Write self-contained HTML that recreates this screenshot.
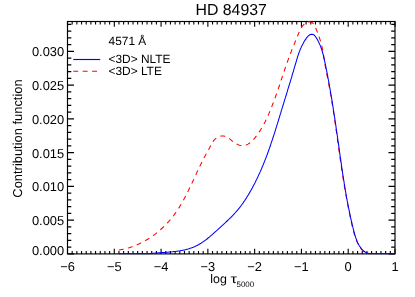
<!DOCTYPE html>
<html><head><meta charset="utf-8"><style>
html,body{margin:0;padding:0;background:#fff}
svg{display:block;will-change:transform;opacity:0.999}
text{text-rendering:geometricPrecision;font-family:"Liberation Sans",sans-serif;fill:#000}
</style></head><body>
<svg width="415" height="297" viewBox="0 0 415 297">
<rect width="415" height="297" fill="#fff"/>
<defs><clipPath id="c"><rect x="67.5" y="20.8" width="327.5" height="233.8"/></clipPath></defs>
<rect x="67.5" y="21.5" width="327.5" height="232.4" fill="none" stroke="#000" stroke-width="1.15"/>
<path d="M67.50 253.9v-5.2M67.50 21.5v5.2M72.18 253.9v-3.0M72.18 21.5v3.0M76.86 253.9v-3.0M76.86 21.5v3.0M81.54 253.9v-3.0M81.54 21.5v3.0M86.21 253.9v-3.0M86.21 21.5v3.0M90.89 253.9v-3.0M90.89 21.5v3.0M95.57 253.9v-3.0M95.57 21.5v3.0M100.25 253.9v-3.0M100.25 21.5v3.0M104.93 253.9v-3.0M104.93 21.5v3.0M109.61 253.9v-3.0M109.61 21.5v3.0M114.29 253.9v-5.2M114.29 21.5v5.2M118.96 253.9v-3.0M118.96 21.5v3.0M123.64 253.9v-3.0M123.64 21.5v3.0M128.32 253.9v-3.0M128.32 21.5v3.0M133.00 253.9v-3.0M133.00 21.5v3.0M137.68 253.9v-3.0M137.68 21.5v3.0M142.36 253.9v-3.0M142.36 21.5v3.0M147.04 253.9v-3.0M147.04 21.5v3.0M151.71 253.9v-3.0M151.71 21.5v3.0M156.39 253.9v-3.0M156.39 21.5v3.0M161.07 253.9v-5.2M161.07 21.5v5.2M165.75 253.9v-3.0M165.75 21.5v3.0M170.43 253.9v-3.0M170.43 21.5v3.0M175.11 253.9v-3.0M175.11 21.5v3.0M179.79 253.9v-3.0M179.79 21.5v3.0M184.46 253.9v-3.0M184.46 21.5v3.0M189.14 253.9v-3.0M189.14 21.5v3.0M193.82 253.9v-3.0M193.82 21.5v3.0M198.50 253.9v-3.0M198.50 21.5v3.0M203.18 253.9v-3.0M203.18 21.5v3.0M207.86 253.9v-5.2M207.86 21.5v5.2M212.54 253.9v-3.0M212.54 21.5v3.0M217.21 253.9v-3.0M217.21 21.5v3.0M221.89 253.9v-3.0M221.89 21.5v3.0M226.57 253.9v-3.0M226.57 21.5v3.0M231.25 253.9v-3.0M231.25 21.5v3.0M235.93 253.9v-3.0M235.93 21.5v3.0M240.61 253.9v-3.0M240.61 21.5v3.0M245.29 253.9v-3.0M245.29 21.5v3.0M249.96 253.9v-3.0M249.96 21.5v3.0M254.64 253.9v-5.2M254.64 21.5v5.2M259.32 253.9v-3.0M259.32 21.5v3.0M264.00 253.9v-3.0M264.00 21.5v3.0M268.68 253.9v-3.0M268.68 21.5v3.0M273.36 253.9v-3.0M273.36 21.5v3.0M278.04 253.9v-3.0M278.04 21.5v3.0M282.71 253.9v-3.0M282.71 21.5v3.0M287.39 253.9v-3.0M287.39 21.5v3.0M292.07 253.9v-3.0M292.07 21.5v3.0M296.75 253.9v-3.0M296.75 21.5v3.0M301.43 253.9v-5.2M301.43 21.5v5.2M306.11 253.9v-3.0M306.11 21.5v3.0M310.79 253.9v-3.0M310.79 21.5v3.0M315.46 253.9v-3.0M315.46 21.5v3.0M320.14 253.9v-3.0M320.14 21.5v3.0M324.82 253.9v-3.0M324.82 21.5v3.0M329.50 253.9v-3.0M329.50 21.5v3.0M334.18 253.9v-3.0M334.18 21.5v3.0M338.86 253.9v-3.0M338.86 21.5v3.0M343.54 253.9v-3.0M343.54 21.5v3.0M348.21 253.9v-5.2M348.21 21.5v5.2M352.89 253.9v-3.0M352.89 21.5v3.0M357.57 253.9v-3.0M357.57 21.5v3.0M362.25 253.9v-3.0M362.25 21.5v3.0M366.93 253.9v-3.0M366.93 21.5v3.0M371.61 253.9v-3.0M371.61 21.5v3.0M376.29 253.9v-3.0M376.29 21.5v3.0M380.96 253.9v-3.0M380.96 21.5v3.0M385.64 253.9v-3.0M385.64 21.5v3.0M390.32 253.9v-3.0M390.32 21.5v3.0M395.00 253.9v-5.2M395.00 21.5v5.2M67.5 253.90h6.5M395.0 253.90h-6.5M67.5 247.15h3.8M395.0 247.15h-3.8M67.5 240.40h3.8M395.0 240.40h-3.8M67.5 233.65h3.8M395.0 233.65h-3.8M67.5 226.90h3.8M395.0 226.90h-3.8M67.5 220.15h6.5M395.0 220.15h-6.5M67.5 213.40h3.8M395.0 213.40h-3.8M67.5 206.65h3.8M395.0 206.65h-3.8M67.5 199.90h3.8M395.0 199.90h-3.8M67.5 193.15h3.8M395.0 193.15h-3.8M67.5 186.40h6.5M395.0 186.40h-6.5M67.5 179.65h3.8M395.0 179.65h-3.8M67.5 172.90h3.8M395.0 172.90h-3.8M67.5 166.15h3.8M395.0 166.15h-3.8M67.5 159.40h3.8M395.0 159.40h-3.8M67.5 152.65h6.5M395.0 152.65h-6.5M67.5 145.90h3.8M395.0 145.90h-3.8M67.5 139.15h3.8M395.0 139.15h-3.8M67.5 132.40h3.8M395.0 132.40h-3.8M67.5 125.65h3.8M395.0 125.65h-3.8M67.5 118.90h6.5M395.0 118.90h-6.5M67.5 112.15h3.8M395.0 112.15h-3.8M67.5 105.40h3.8M395.0 105.40h-3.8M67.5 98.65h3.8M395.0 98.65h-3.8M67.5 91.90h3.8M395.0 91.90h-3.8M67.5 85.15h6.5M395.0 85.15h-6.5M67.5 78.40h3.8M395.0 78.40h-3.8M67.5 71.65h3.8M395.0 71.65h-3.8M67.5 64.90h3.8M395.0 64.90h-3.8M67.5 58.15h3.8M395.0 58.15h-3.8M67.5 51.40h6.5M395.0 51.40h-6.5M67.5 44.65h3.8M395.0 44.65h-3.8M67.5 37.90h3.8M395.0 37.90h-3.8M67.5 31.15h3.8M395.0 31.15h-3.8M67.5 24.40h3.8M395.0 24.40h-3.8" stroke="#000" stroke-width="1.1" fill="none"/>
<g clip-path="url(#c)" fill="none" stroke-width="1.05" stroke-linejoin="round">
<path d="M118.7 250.0L120.2 249.8L121.7 249.5L123.2 249.2L124.7 248.9L126.2 248.5L127.6 248.1L129.1 247.7L130.5 247.2L131.9 246.8L133.3 246.3L134.8 245.7L136.1 245.2L137.5 244.6L138.9 244.0L140.2 243.3L141.6 242.7L142.9 242.0L144.2 241.3L145.5 240.5L146.8 239.8L148.1 239.0L149.4 238.2L150.6 237.4L151.9 236.5L153.1 235.7L154.3 234.8L155.5 233.9L156.7 232.9L157.8 232.0L159.0 231.0L160.1 230.0L161.2 229.0L162.3 228.0L163.4 227.0L164.5 225.9L165.6 224.9L166.6 223.8L167.6 222.7L168.6 221.6L169.6 220.4L170.6 219.3L171.5 218.1L172.4 217.0L173.4 215.8L174.3 214.6L175.1 213.4L176.0 212.2L176.8 210.9L177.7 209.7L178.5 208.5L179.3 207.2L180.1 205.9L180.8 204.7L181.6 203.4L182.3 202.1L183.1 200.8L183.8 199.5L184.5 198.2L185.2 196.8L185.9 195.5L186.6 194.2L187.3 192.9L187.9 191.5L188.6 190.2L189.2 188.8L189.9 187.5L190.5 186.1L191.2 184.8L191.8 183.4L192.5 182.1L193.1 180.7L193.7 179.4L194.3 178.0L195.0 176.7L195.6 175.3L196.2 174.0L196.8 172.6L197.5 171.3L198.1 169.9L198.7 168.6L199.4 167.2L200.0 165.9L200.7 164.6L201.3 163.3L202.0 161.9L202.6 160.6L203.3 159.3L204.0 157.9L204.7 156.6L205.5 155.2L206.2 153.8L207.0 152.5L207.8 151.1L208.5 149.7L209.3 148.3L210.0 146.9L210.7 145.6L211.4 144.3L212.1 143.1L212.8 141.9L213.6 140.7L214.5 139.6L215.6 138.6L216.8 137.7L218.1 137.0L219.6 136.4L221.0 136.1L222.5 136.0L224.0 136.1L225.5 136.5L226.9 137.1L228.2 137.8L229.4 138.7L230.6 139.6L231.7 140.6L232.8 141.6L234.0 142.5L235.4 143.4L236.7 144.1L238.2 144.7L239.6 145.2L241.1 145.5L242.6 145.6L244.0 145.5L245.4 145.2L246.8 144.7L248.0 144.1L249.3 143.3L250.4 142.5L251.5 141.5L252.6 140.4L253.7 139.3L254.7 138.1L255.6 136.9L256.6 135.6L257.5 134.4L258.4 133.1L259.2 131.9L260.1 130.6L260.9 129.3L261.6 128.0L262.4 126.7L263.2 125.4L263.9 124.1L264.6 122.8L265.3 121.5L265.9 120.1L266.6 118.8L267.2 117.4L267.8 116.1L268.4 114.7L269.0 113.4L269.6 112.0L270.2 110.7L270.7 109.3L271.3 107.9L271.8 106.5L272.4 105.1L272.9 103.7L273.5 102.3L274.0 100.9L274.5 99.5L275.0 98.1L275.5 96.7L276.0 95.3L276.5 93.8L277.0 92.4L277.5 91.0L278.0 89.6L278.5 88.1L279.0 86.7L279.5 85.3L279.9 83.8L280.4 82.4L280.9 81.0L281.4 79.5L281.9 78.1L282.3 76.7L282.8 75.2L283.3 73.8L283.8 72.4L284.3 71.0L284.7 69.5L285.2 68.1L285.7 66.7L286.2 65.3L286.7 63.9L287.2 62.5L287.7 61.0L288.2 59.6L288.7 58.2L289.2 56.9L289.8 55.5L290.3 54.1L290.8 52.7L291.4 51.3L291.9 49.9L292.4 48.6L293.0 47.2L293.5 45.8L294.1 44.5L294.7 43.1L295.2 41.7L295.8 40.3L296.4 38.9L297.0 37.5L297.5 36.1L298.1 34.7L298.7 33.3L299.3 31.9L300.0 30.5L300.7 29.1L301.4 27.8L302.2 26.5L303.1 25.3L304.2 24.1L305.3 23.1L306.5 22.3L307.9 21.9L309.3 21.7" stroke="#f00" stroke-dasharray="4.9 4.5"/>
<path d="M309.3 21.7L310.7 22.0L311.9 22.5L313.0 23.4L313.9 24.6L314.6 25.9L315.3 27.3L316.0 28.7L316.6 30.2L317.2 31.6L317.8 33.0L318.3 34.4L318.8 35.8L319.3 37.3L319.7 38.7L320.2 40.1L320.6 41.6L321.0 43.0L321.4 44.5L321.8 45.9L322.1 47.4L322.4 48.8L322.8 50.3L323.0 51.7L323.3 53.2L323.5 54.7L323.7 56.1L323.9 57.6L324.1 59.1L324.3 60.5L324.6 62.0L324.8 63.5L325.0 64.9L325.3 66.4L325.6 67.9L325.9 69.4L326.1 70.8L326.4 72.3L326.7 73.8L327.0 75.3L327.3 76.8L327.6 78.2L327.9 79.7L328.2 81.2L328.5 82.7L328.8 84.2L329.0 85.6L329.3 87.1L329.6 88.6L329.9 90.1L330.1 91.6L330.4 93.0L330.7 94.5L330.9 96.0L331.2 97.5L331.4 99.0L331.7 100.4L331.9 101.9L332.1 103.4L332.4 104.9L332.6 106.4L332.9 107.8L333.1 109.3L333.3 110.8L333.5 112.3L333.8 113.8L334.0 115.2L334.2 116.7L334.4 118.2L334.7 119.7L334.9 121.2L335.1 122.7L335.3 124.1L335.5 125.6L335.7 127.1L335.9 128.6L336.1 130.1L336.4 131.5L336.6 133.0L336.8 134.5L337.0 136.0L337.2 137.5L337.4 138.9L337.6 140.4L337.8 141.9L338.0 143.4L338.2 144.9L338.4 146.4L338.6 147.8L338.8 149.3L339.0 150.8L339.2 152.3L339.5 153.8L339.7 155.3L339.9 156.7L340.1 158.2L340.3 159.7L340.5 161.2L340.7 162.7L340.9 164.1L341.2 165.6L341.4 167.1L341.6 168.6L341.8 170.1L342.0 171.6L342.3 173.0L342.5 174.5L342.7 176.0L343.0 177.5L343.2 179.0L343.4 180.5L343.7 181.9L343.9 183.4L344.2 184.9L344.4 186.4L344.7 187.9L344.9 189.4L345.2 190.9L345.4 192.3L345.7 193.8L346.0 195.3L346.3 196.8L346.5 198.3L346.8 199.8L347.1 201.2L347.4 202.7L347.7 204.2L347.9 205.7L348.2 207.2L348.5 208.7L348.8 210.1L349.1 211.6L349.4 213.1L349.7 214.5L350.0 216.0L350.3 217.5L350.7 218.9L351.0 220.4L351.3 221.9L351.6 223.3L351.9 224.8L352.2 226.2L352.6 227.7L352.9 229.1L353.3 230.5L353.7 232.0L354.1 233.4L354.5 234.8L354.9 236.3L355.4 237.7L355.9 239.1L356.5 240.5L357.1 241.9L357.7 243.3L358.4 244.6L359.1 246.0L359.9 247.2L360.8 248.4L361.8 249.6L362.9 250.6L364.1 251.5L365.3 252.2L366.7 252.8L368.1 253.3L369.6 253.6L370.3 253.6" stroke="#f00" stroke-dasharray="4.9 4.5"/>
<path d="M119.0 253.7L150.1 253.6L151.5 253.4L152.9 253.3L154.3 253.2L155.7 253.0L157.2 252.9L158.7 252.8L160.1 252.7L161.6 252.6L163.2 252.5L164.7 252.4L166.2 252.3L167.7 252.2L169.3 252.0L170.8 251.9L172.4 251.8L173.9 251.6L175.4 251.4L177.0 251.2L178.5 251.0L180.0 250.8L181.5 250.5L183.0 250.2L184.5 249.9L186.0 249.6L187.5 249.2L188.9 248.8L190.3 248.3L191.8 247.8L193.1 247.3L194.5 246.7L195.8 246.1L197.1 245.5L198.4 244.8L199.7 244.0L201.0 243.2L202.2 242.4L203.4 241.6L204.6 240.8L205.8 239.9L207.0 239.0L208.1 238.0L209.3 237.1L210.4 236.1L211.6 235.2L212.7 234.2L213.8 233.2L214.9 232.2L216.1 231.2L217.2 230.2L218.3 229.1L219.4 228.1L220.5 227.1L221.6 226.1L222.7 225.1L223.8 224.1L224.9 223.1L226.0 222.0L227.1 221.0L228.2 220.0L229.3 218.9L230.4 217.9L231.4 216.8L232.4 215.8L233.5 214.7L234.5 213.6L235.5 212.5L236.5 211.3L237.5 210.2L238.4 209.1L239.4 207.9L240.3 206.7L241.2 205.5L242.1 204.3L243.0 203.1L243.8 201.8L244.7 200.6L245.5 199.3L246.3 198.1L247.1 196.8L247.9 195.5L248.7 194.2L249.5 192.9L250.2 191.6L251.0 190.3L251.7 189.0L252.4 187.7L253.1 186.3L253.8 185.0L254.5 183.7L255.2 182.4L255.8 181.0L256.5 179.7L257.2 178.3L257.8 177.0L258.4 175.6L259.0 174.3L259.7 172.9L260.3 171.6L260.9 170.2L261.5 168.9L262.0 167.5L262.6 166.1L263.2 164.8L263.7 163.4L264.3 162.0L264.8 160.6L265.4 159.2L265.9 157.9L266.4 156.5L267.0 155.1L267.5 153.7L268.0 152.3L268.5 150.9L269.0 149.5L269.5 148.1L270.0 146.7L270.5 145.3L270.9 143.9L271.4 142.4L271.9 141.0L272.4 139.6L272.8 138.2L273.3 136.8L273.8 135.3L274.2 133.9L274.7 132.5L275.1 131.1L275.6 129.6L276.0 128.2L276.5 126.7L276.9 125.3L277.4 123.9L277.8 122.4L278.3 121.0L278.7 119.5L279.1 118.1L279.6 116.6L280.0 115.2L280.5 113.7L280.9 112.3L281.3 110.8L281.8 109.4L282.2 107.9L282.7 106.5L283.1 105.0L283.6 103.5L284.0 102.1L284.5 100.6L284.9 99.2L285.4 97.7L285.8 96.2L286.3 94.8L286.7 93.3L287.2 91.8L287.6 90.4L288.0 88.9L288.5 87.5L288.9 86.0L289.4 84.6L289.8 83.1L290.3 81.7L290.7 80.2L291.1 78.8L291.6 77.3L292.0 75.9L292.4 74.4L292.8 73.0L293.3 71.6L293.7 70.1L294.1 68.7L294.5 67.3L294.9 65.9L295.3 64.5L295.8 63.0L296.2 61.6L296.6 60.2L297.0 58.8L297.4 57.5L297.8 56.1L298.3 54.7L298.8 53.3L299.3 51.9L299.8 50.6L300.3 49.2L300.9 47.9L301.5 46.5L302.2 45.2L302.9 43.9L303.6 42.5L304.4 41.2L305.2 39.9L306.1 38.6L307.0 37.3L308.1 36.1L309.2 35.2L310.3 34.5L311.7 34.2L313.1 34.4L314.3 35.2L315.4 36.5L316.4 37.9L317.2 39.3L317.9 40.6L318.6 41.9L319.2 43.2L319.8 44.6L320.4 45.9L320.9 47.3L321.4 48.7L321.8 50.1L322.3 51.5L322.7 53.0L323.1 54.4L323.5 55.9L323.8 57.3L324.2 58.8L324.5 60.3L324.8 61.7L325.1 63.2L325.4 64.7L325.7 66.2L326.0 67.6L326.3 69.1L326.6 70.6L326.9 72.1L327.2 73.6L327.5 75.0L327.8 76.5L328.0 78.0L328.3 79.5L328.6 81.0L328.9 82.4L329.1 83.9L329.4 85.4L329.6 86.9L329.9 88.4L330.2 89.8L330.4 91.3L330.7 92.8L330.9 94.3L331.2 95.7L331.4 97.2L331.7 98.7L331.9 100.2L332.2 101.7L332.4 103.1L332.6 104.6L332.9 106.1L333.1 107.6L333.3 109.1L333.6 110.5L333.8 112.0L334.0 113.5L334.2 115.0L334.5 116.5L334.7 117.9L334.9 119.4L335.1 120.9L335.4 122.4L335.6 123.9L335.8 125.3L336.0 126.8L336.2 128.3L336.4 129.8L336.7 131.3L336.9 132.7L337.1 134.2L337.3 135.7L337.5 137.2L337.7 138.7L337.9 140.1L338.1 141.6L338.4 143.1L338.6 144.6L338.8 146.1L339.0 147.6L339.2 149.0L339.4 150.5L339.6 152.0L339.8 153.5L340.0 155.0L340.2 156.5L340.4 157.9L340.7 159.4L340.9 160.9L341.1 162.4L341.3 163.9L341.5 165.4L341.7 166.9L341.9 168.3L342.2 169.8L342.4 171.3L342.6 172.8L342.8 174.3L343.0 175.8L343.3 177.2L343.5 178.7L343.7 180.2L344.0 181.7L344.2 183.2L344.4 184.7L344.7 186.1L344.9 187.6L345.2 189.1L345.4 190.6L345.7 192.1L345.9 193.5L346.2 195.0L346.4 196.5L346.7 198.0L347.0 199.4L347.2 200.9L347.5 202.4L347.8 203.9L348.1 205.3L348.4 206.8L348.7 208.3L349.0 209.8L349.3 211.2L349.6 212.7L349.9 214.2L350.2 215.6L350.5 217.1L350.8 218.6L351.2 220.0L351.5 221.5L351.9 223.0L352.2 224.4L352.6 225.9L352.9 227.4L353.3 228.8L353.7 230.3L354.0 231.7L354.4 233.2L354.8 234.6L355.3 236.1L355.7 237.5L356.2 238.9L356.7 240.3L357.3 241.7L357.9 243.0L358.6 244.4L359.3 245.7L360.1 246.9L361.0 248.1L361.9 249.3L363.0 250.4L364.1 251.3L365.4 252.2L366.7 252.8L368.1 253.3L369.7 253.5L370.7 253.6L395.0 253.7" stroke="#00f"/>
</g>
<g font-size="12.9"><text x="67.5" y="271.2" text-anchor="middle">−6</text><text x="114.3" y="271.2" text-anchor="middle">−5</text><text x="161.1" y="271.2" text-anchor="middle">−4</text><text x="207.9" y="271.2" text-anchor="middle">−3</text><text x="254.6" y="271.2" text-anchor="middle">−2</text><text x="301.4" y="271.2" text-anchor="middle">−1</text><text x="348.2" y="271.2" text-anchor="middle">0</text><text x="395.0" y="271.2" text-anchor="middle">1</text><text x="64.2" y="254.7" text-anchor="end">0.000</text><text x="64.2" y="225.2" text-anchor="end">0.005</text><text x="64.2" y="191.4" text-anchor="end">0.010</text><text x="64.2" y="157.7" text-anchor="end">0.015</text><text x="64.2" y="123.9" text-anchor="end">0.020</text><text x="64.2" y="90.2" text-anchor="end">0.025</text><text x="64.2" y="56.4" text-anchor="end">0.030</text></g>
<text x="231.2" y="15.1" font-size="15.85" text-anchor="middle">HD 84937</text>
<text transform="translate(22.0,138.5) rotate(-90)" font-size="12.9" text-anchor="middle">Contribution function</text>
<text x="210.3" y="283.2" font-size="12.4">log</text>
<text transform="translate(230.4,283.2) scale(1.32,1)" font-size="12.4">τ</text>
<text x="236.5" y="287.0" font-size="7.95">5000</text>
<g font-size="11.9">
<text x="108.6" y="44.9">4571 Å</text>
<text x="108.5" y="62.5">&lt;3D&gt; NLTE</text>
<text x="108.5" y="74.5">&lt;3D&gt; LTE</text>
</g>
<path d="M73.3 59.5H100.2" stroke="#00f" stroke-width="1.15" fill="none"/>
<path d="M73.3 71.2H100.2" stroke="#f00" stroke-width="1.15" stroke-dasharray="4.9 4.5" fill="none"/>
</svg>
</body></html>
